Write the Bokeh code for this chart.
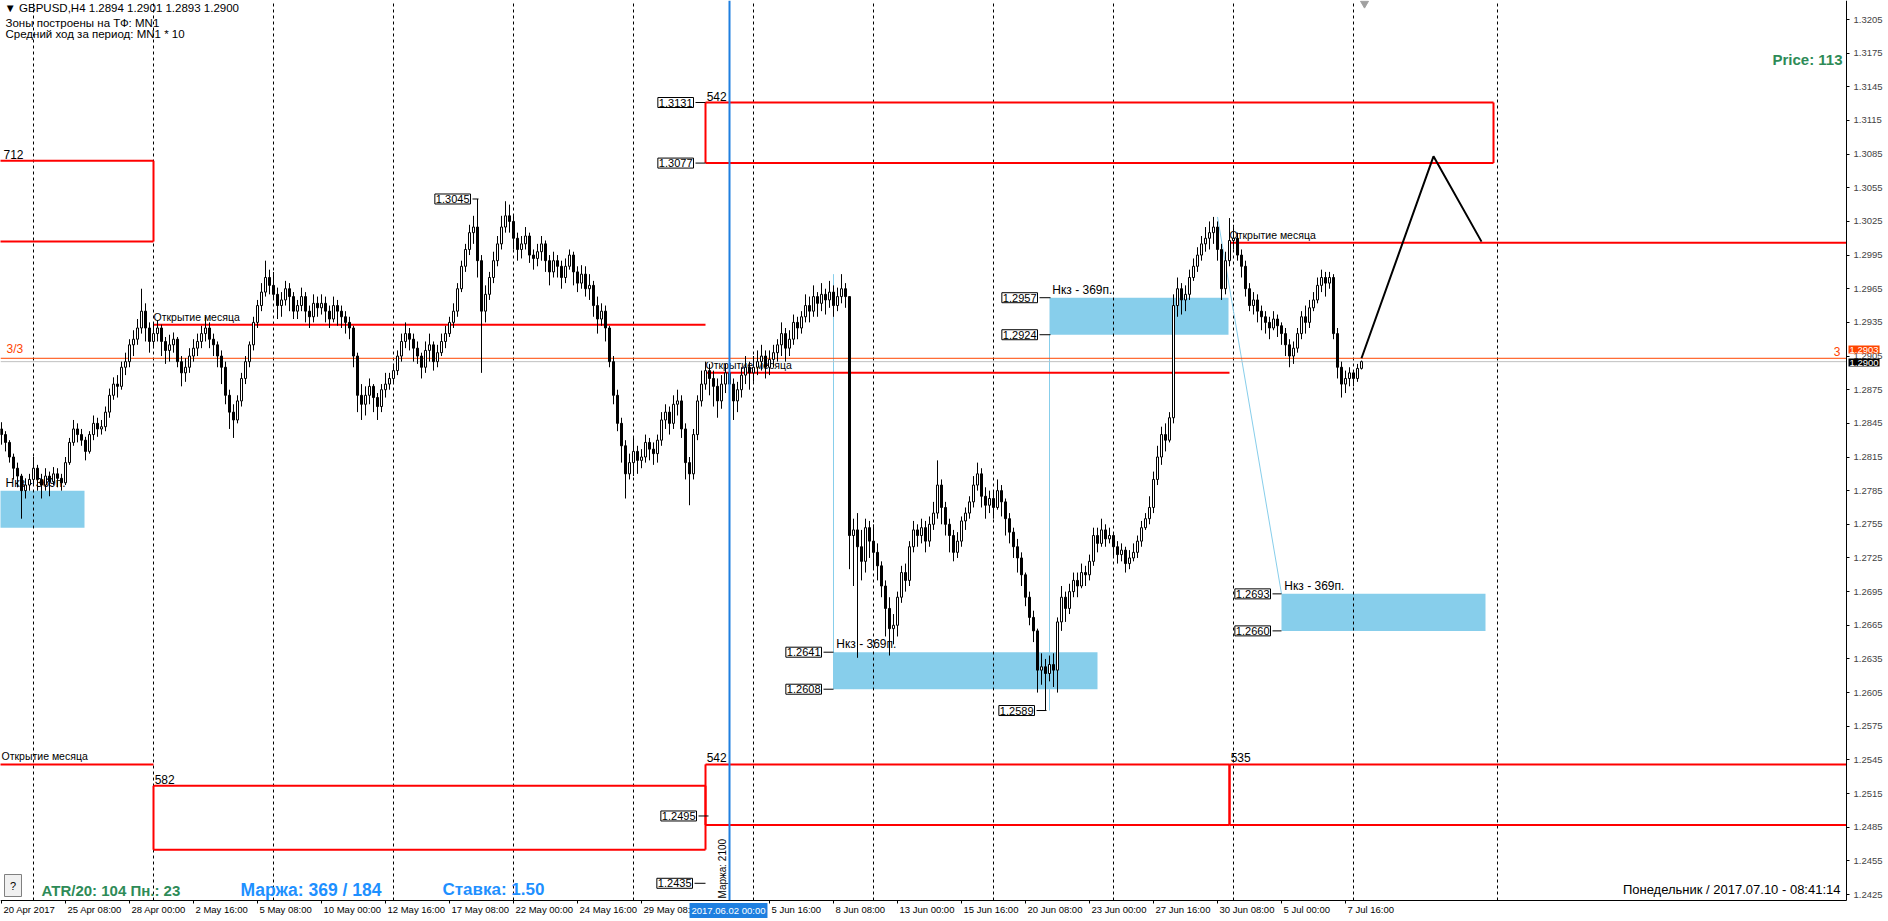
import numpy as np
from bokeh.plotting import figure
from bokeh.models import Range1d, FixedTicker, LinearAxis, Label, NumeralTickFormatter
from bokeh.core.properties import value
from bokeh.embed import file_html
from bokeh.resources import INLINE

FONT = "Liberation Sans"

# ---------------- data: GBPUSD H4, bar 0 = 20 Apr 2017 16:00 (values = pips above 1.0000) ----------------
first_open = 2840
close_pts = [
    2835, 2828,
    2815, 2805, 2798, 2785, 2790, 2795,
    2805, 2795, 2790, 2798, 2793, 2800,
    2796, 2792, 2810, 2828, 2840, 2835,
    2830, 2820, 2835, 2845, 2840, 2842,
    2855, 2870, 2880, 2878, 2895, 2900,
    2915, 2920, 2930, 2945, 2930, 2918,
    2925, 2930, 2918, 2910, 2915, 2920,
    2900, 2890, 2895, 2905, 2912, 2918,
    2925, 2930, 2920, 2915, 2905, 2895,
    2870, 2855, 2848, 2865, 2885, 2900,
    2915, 2935, 2950, 2962, 2975, 2968,
    2960, 2950, 2955, 2965, 2958, 2945,
    2950, 2958, 2945, 2940, 2952, 2948,
    2952, 2945, 2938, 2950, 2945, 2940,
    2935, 2930, 2905, 2870, 2862, 2870,
    2878, 2868, 2860, 2875, 2880, 2885,
    2892, 2905, 2918, 2925, 2920, 2912,
    2905, 2895, 2910, 2915, 2900, 2908,
    2918, 2925, 2935, 2945, 2965, 2985,
    3000, 3015, 3020, 2990, 2945, 2960,
    2975, 2990, 3005, 3020, 3030, 3025,
    3010, 3000, 3005, 3012, 2995, 2992,
    2998, 3005, 2990, 2980, 2990, 2985,
    2975, 2985, 2995, 2980, 2970, 2978,
    2965, 2968, 2950, 2938, 2945, 2930,
    2900, 2870, 2845, 2825, 2800, 2810,
    2820, 2812, 2815, 2828, 2822, 2818,
    2830, 2848, 2855, 2845, 2862, 2865,
    2840, 2810, 2800, 2835, 2865, 2880,
    2892, 2885, 2878, 2865, 2880, 2890,
    2880, 2865, 2875, 2888, 2895, 2890,
    2895, 2900, 2905, 2895, 2902, 2908,
    2915, 2925, 2912, 2920, 2935, 2930,
    2940, 2950, 2945, 2958, 2952, 2960,
    2955, 2962, 2950, 2958, 2965, 2958,
    2745, 2750, 2735, 2722, 2752, 2740,
    2730, 2718, 2700, 2680, 2662, 2665,
    2690, 2712, 2705, 2735, 2750, 2745,
    2752, 2740, 2755, 2765, 2790, 2770,
    2755, 2745, 2730, 2740, 2758, 2765,
    2775, 2790, 2800, 2780, 2772, 2778,
    2770, 2785, 2775, 2760, 2748, 2735,
    2725, 2710, 2690, 2672, 2660, 2625,
    2628, 2622, 2630, 2625, 2668, 2690,
    2680, 2695, 2705, 2700, 2712, 2710,
    2722, 2745, 2738, 2750, 2742, 2745,
    2735, 2728, 2732, 2720, 2725, 2730,
    2740, 2752, 2760, 2770, 2795, 2815,
    2835, 2830, 2850, 2950, 2965, 2955,
    2960, 2975, 2985, 2995, 3005, 3010,
    3015, 3020, 3000, 2965, 2990, 3008,
    3010, 2995, 2985, 2965, 2950, 2955,
    2945, 2940, 2935, 2930, 2938, 2932,
    2925, 2915, 2905, 2912, 2925, 2940,
    2935, 2948, 2955, 2968, 2975, 2970,
    2975, 2925, 2895, 2880, 2885, 2890,
    2885, 2894, 2900,
]
high_pts = [
    2846, 2838,
    2830, 2818, 2810, 2800, 2796, 2800,
    2815, 2808, 2800, 2805, 2802, 2806,
    2805, 2800, 2815, 2832, 2848, 2845,
    2840, 2833, 2838, 2852, 2850, 2848,
    2860, 2876, 2886, 2888, 2900, 2908,
    2920, 2928, 2938, 2965, 2952, 2935,
    2935, 2937, 2933, 2922, 2924, 2926,
    2922, 2905, 2903, 2912, 2920, 2925,
    2932, 2940, 2935, 2925, 2918, 2910,
    2900, 2875, 2862, 2870, 2890, 2905,
    2918, 2940, 2955, 2970, 2990, 2982,
    2980, 2966, 2962, 2972, 2970, 2962,
    2955, 2966, 2962, 2950, 2960, 2958,
    2960, 2958, 2950, 2958, 2955, 2950,
    2945, 2940, 2932, 2908, 2880, 2878,
    2885, 2880, 2872, 2880, 2890, 2890,
    2898, 2910, 2925, 2935, 2930, 2925,
    2918, 2908, 2918, 2925, 2918, 2915,
    2925, 2932, 2940, 2952, 2970, 2990,
    3005, 3022, 3030, 3045, 2995, 2968,
    2980, 2998, 3012, 3030, 3043, 3040,
    3030, 3015, 3012, 3020, 3015, 3000,
    3005, 3012, 3008, 2995, 2998, 2995,
    2990, 2992, 3000, 2998, 2985, 2986,
    2985, 2978, 2972, 2958, 2952, 2950,
    2932, 2905, 2875, 2850, 2830, 2818,
    2832, 2825, 2822, 2835, 2832, 2828,
    2835, 2855, 2862, 2860, 2870, 2875,
    2870, 2845, 2815, 2840, 2870, 2892,
    2900, 2898, 2892, 2885, 2888, 2898,
    2895, 2885, 2882, 2895, 2905, 2900,
    2905, 2910, 2915, 2910, 2910, 2915,
    2920, 2935, 2930, 2928, 2942, 2940,
    2945, 2960, 2958, 2968, 2962, 2970,
    2965, 2972, 2968, 2966, 2978, 2970,
    2958, 2760, 2765, 2750, 2760, 2758,
    2755, 2738, 2722, 2705, 2690, 2675,
    2695, 2718, 2720, 2740, 2758, 2755,
    2760, 2758, 2762, 2775, 2812, 2795,
    2775, 2760, 2750, 2748, 2762, 2770,
    2780, 2798, 2810, 2805, 2788, 2785,
    2785, 2795, 2790, 2778, 2765, 2752,
    2742, 2730, 2712, 2695, 2678, 2662,
    2640, 2635, 2638, 2640, 2672, 2700,
    2695, 2702, 2712, 2712, 2720, 2718,
    2728, 2752, 2752, 2760, 2755, 2752,
    2748, 2740, 2738, 2735, 2732, 2738,
    2745, 2758, 2765, 2780, 2802, 2825,
    2842, 2845, 2855, 2960, 2975, 2970,
    2968, 2982, 2992, 3002, 3012, 3020,
    3025, 3029, 3025, 3005, 2998, 3028,
    3022, 3015, 3000, 2990, 2970, 2962,
    2960, 2950, 2945, 2940, 2945, 2942,
    2935, 2930, 2920, 2918, 2930, 2945,
    2950, 2955, 2962, 2975, 2982, 2980,
    2980, 2978, 2930, 2900, 2892, 2895,
    2892, 2898, 2901,
]
low_pts = [
    2826, 2820,
    2810, 2795, 2788, 2760, 2778, 2785,
    2790, 2785, 2778, 2785, 2780, 2790,
    2788, 2785, 2790, 2808, 2825, 2828,
    2825, 2812, 2818, 2830, 2833, 2835,
    2838, 2850, 2866, 2868, 2875, 2888,
    2895, 2905, 2915, 2925, 2918, 2908,
    2912, 2918, 2905, 2898, 2900, 2908,
    2895, 2878, 2882, 2890, 2900, 2905,
    2912, 2918, 2912, 2905, 2895, 2880,
    2862, 2840, 2832, 2845, 2860, 2880,
    2895, 2910, 2930, 2945, 2958, 2960,
    2955, 2938, 2940, 2950, 2945, 2938,
    2938, 2945, 2935, 2930, 2935, 2940,
    2942, 2935, 2930, 2935, 2932, 2930,
    2925, 2920, 2895, 2855, 2848, 2852,
    2862, 2855, 2848, 2855, 2868, 2875,
    2880, 2888, 2900, 2912, 2910, 2900,
    2898, 2885, 2890, 2900, 2892, 2895,
    2905, 2912, 2922, 2930, 2940, 2962,
    2980, 2995, 3005, 2975, 2890, 2935,
    2955, 2970, 2985, 3000, 3015, 3015,
    3000, 2990, 2992, 3000, 2988, 2982,
    2985, 2990, 2980, 2968, 2975, 2975,
    2965, 2970, 2982, 2968, 2962, 2965,
    2958, 2955, 2940, 2925, 2932, 2918,
    2895, 2862, 2838, 2810, 2778, 2795,
    2798, 2800, 2805, 2810, 2812, 2808,
    2810, 2825, 2840, 2835, 2840, 2852,
    2832, 2795, 2772, 2795, 2830, 2860,
    2875, 2870, 2860, 2850, 2858, 2872,
    2870, 2848, 2855, 2868, 2880, 2875,
    2882, 2888, 2892, 2885, 2888, 2895,
    2900, 2905, 2900, 2905, 2915, 2920,
    2925, 2935, 2935, 2940, 2940, 2945,
    2942, 2948, 2940, 2945, 2952, 2948,
    2715, 2700, 2636, 2705, 2712, 2725,
    2715, 2705, 2690, 2655, 2638, 2648,
    2655, 2685, 2695, 2700, 2730, 2735,
    2738, 2730, 2735, 2750, 2760, 2755,
    2745, 2730, 2722, 2725, 2735, 2750,
    2760, 2770, 2785, 2770, 2760, 2765,
    2760, 2768, 2762, 2745, 2738, 2725,
    2712, 2700, 2682, 2665, 2650, 2605,
    2612, 2589, 2615, 2610, 2605, 2660,
    2668, 2675, 2690, 2690, 2698, 2700,
    2705, 2718, 2730, 2735, 2735, 2738,
    2725, 2720, 2722, 2712, 2715, 2722,
    2725, 2735, 2750, 2755, 2765, 2790,
    2808, 2820, 2828, 2845, 2940, 2942,
    2945, 2955, 2972, 2980, 2990, 2998,
    3000, 3005, 2990, 2955, 2960, 2985,
    3000, 2990, 2975, 2958, 2945, 2942,
    2935, 2928, 2925, 2920, 2928, 2922,
    2915, 2905, 2895, 2898, 2908, 2920,
    2925, 2930, 2945, 2952, 2962, 2958,
    2965, 2920, 2885, 2868, 2872, 2878,
    2878, 2882, 2893,
]

# time axis labels (bar index -> text)
tick_bars = [0, 16, 32, 48, 64, 80, 96, 112, 128, 144, 160, 192, 208, 224, 240, 256, 272, 288, 304, 320, 336]
tick_labels = ["20 Apr 2017", "25 Apr 08:00", "28 Apr 00:00", "2 May 16:00", "5 May 08:00", "10 May 00:00",
               "12 May 16:00", "17 May 08:00", "22 May 00:00", "24 May 16:00", "29 May 08:00",
               "5 Jun 16:00", "8 Jun 08:00", "13 Jun 00:00", "15 Jun 16:00", "20 Jun 08:00",
               "23 Jun 00:00", "27 Jun 16:00", "30 Jun 08:00", "5 Jul 00:00", "7 Jul 16:00"]
week_start_bars = [8, 38, 68, 98, 128, 158, 188, 218, 248, 278, 308, 338, 374]
price_ticks = [1.2425, 1.2455, 1.2485, 1.2515, 1.2545, 1.2575, 1.2605, 1.2635, 1.2665, 1.2695,
               1.2725, 1.2755, 1.2785, 1.2815, 1.2845, 1.2875, 1.2905, 1.2935, 1.2965, 1.2995,
               1.3025, 1.3055, 1.3085, 1.3115, 1.3145, 1.3175, 1.3205]

# demand zones "Нкз" (bar from, bar to, low, high)
zone_x0 = [-1, 208, 262, 320]
zone_x1 = [20.75, 274, 306.75, 371]
zone_lo = [1.2752, 1.2608, 1.2924, 1.2660]
zone_hi = [1.2785, 1.2641, 1.2957, 1.2693]
zone_text = ["Нкз - 369п.", "Нкз - 369п.", "Нкз - 369п.", "Нкз - 369п."]

# monthly range boxes (bar from, bar to, low, high, label)
box_x0 = [-1, 176, 38, 176, 307]
box_x1 = [38, 373, 176, 307, None]
box_lo = [1.3007, 1.3077, 1.2465, 1.2487, 1.2487]
box_hi = [1.3079, 1.3131, 1.2522, 1.2541, 1.2541]
box_text = ["712", "542", "582", "542", "535"]

# month open levels
mo_x0 = [-1, 38, 176, 307]
mo_x1 = [38, 176, 307, None]
mo_price = [1.2541, 1.2933, 1.2890, 1.3006]

# projected path
path_bars = [340, 358, 370]
path_prices = [1.2903, 1.3083, 1.3007]

vline_bar = 182          # 2017.06.02 00:00
bid_price = 1.2900
level_33 = 1.2903

# ---------------- layout helpers (window pixel -> data) ----------------
def bx(X):
    return (X - 1) / 4.0

def py(Y):
    return 1.3205 - (Y - 19) / 11218.0

W, H = 1888, 921
XR, YB = 1846, 900          # right price scale / bottom time scale position
p = figure(frame_width=W, frame_height=H, output_backend="svg", toolbar_location=None,
           x_range=Range1d(bx(0), bx(W)), y_range=Range1d(py(H), py(0)),
           x_axis_location=None, y_axis_location=None,
           min_border_left=0, min_border_top=0, min_border_right=0, min_border_bottom=0,
           background_fill_color="white", border_fill_color="white")
p.xgrid.visible = False
p.ygrid.visible = False
p.outline_line_color = None

xr_end = bx(XR)
for i in range(len(box_x1)):
    if box_x1[i] is None:
        box_x1[i] = xr_end
for i in range(len(mo_x1)):
    if mo_x1[i] is None:
        mo_x1[i] = xr_end

yax = LinearAxis(ticker=FixedTicker(ticks=price_ticks), formatter=NumeralTickFormatter(format="0.0000"),
                 fixed_location=xr_end, bounds=(py(YB), py(0)),
                 major_label_text_font=FONT, major_label_text_font_size="9.5px",
                 major_tick_out=3, major_tick_in=0, minor_tick_out=0, minor_tick_in=0,
                 major_label_standoff=4, axis_line_color="black", major_tick_line_color="black")
p.add_layout(yax, "right")

# time axis: ticks from the axis, MT4-style left-aligned labels drawn at the tick bars
xax = LinearAxis(ticker=FixedTicker(ticks=tick_bars),
                 major_label_overrides={b: "" for b in tick_bars},
                 fixed_location=py(YB), bounds=(bx(0), xr_end),
                 major_label_text_font_size="1px", major_tick_out=3, major_tick_in=0,
                 minor_tick_out=0, minor_tick_in=0, axis_line_color="black")
p.add_layout(xax, "below")
for b, s in zip(tick_bars, tick_labels):
    p.add_layout(Label(x=b, y=py(YB + 3), x_offset=2, text=s, text_font=FONT, text_font_size="9.5px",
                       text_align="left", text_baseline="top", text_color="black"))

ybot, ytop = py(YB), py(0)

# zones
p.quad(left=zone_x0, right=zone_x1, bottom=zone_lo, top=zone_hi, fill_color="#87CEEB", line_color=None)

# grid (weekly)
p.segment(x0=week_start_bars, x1=week_start_bars, y0=[ybot] * len(week_start_bars),
          y1=[ytop] * len(week_start_bars), line_color="black", line_width=1, line_dash="3 3")

# thin light-blue helper lines
p.segment(x0=[208, 262, 304], y0=[1.2978, 1.2924, 1.3029], x1=[208, 262, 320], y1=[1.2608, 1.2589, 1.2693],
          line_color="#87CEEB", line_width=1)

# zone texts
p.text(x=[bx(5)] + [x + 0.7 for x in zone_x0[1:]], y=zone_hi, text=zone_text,
       text_font=value(FONT), text_font_size=value("12px"), text_baseline="bottom", y_offset=-1,
       text_color="black")

# month open lines and texts
p.segment(x0=mo_x0, x1=mo_x1, y0=mo_price, y1=mo_price, line_color="red", line_width=2)
p.text(x=[bx(1)] + mo_x0[1:], y=mo_price, text=["Открытие месяца"] * 4, text_font=value(FONT),
       text_font_size=value("10.5px"), text_baseline="bottom", y_offset=-2, text_color="black")

# monthly boxes (top, bottom, left edges; right edge where the box closes)
p.segment(x0=box_x0 + box_x0, x1=box_x1 + box_x1, y0=box_hi + box_lo, y1=box_hi + box_lo,
          line_color="red", line_width=2)
p.segment(x0=box_x0, x1=box_x0, y0=box_lo, y1=box_hi, line_color="red", line_width=2)
closed = [i for i in range(len(box_x1)) if box_x1[i] < xr_end]
p.segment(x0=[box_x1[i] for i in closed], x1=[box_x1[i] for i in closed],
          y0=[box_lo[i] for i in closed], y1=[box_hi[i] for i in closed], line_color="red", line_width=2)
p.text(x=[bx(3)] + [x + 0.3 for x in box_x0[1:]], y=box_hi, text=box_text, text_font=value(FONT),
       text_font_size=value("12px"), text_baseline="bottom", y_offset=-2, text_color="black")

# level lines
p.segment(x0=[bx(0)], x1=[xr_end], y0=[level_33], y1=[level_33], line_color="#FF4500", line_width=1)
p.segment(x0=[bx(0)], x1=[xr_end], y0=[bid_price], y1=[bid_price], line_color="#C0C0C0", line_width=1)
p.text(x=[bx(6)], y=[level_33], text=["3/3"], text_font=value(FONT), text_font_size=value("12px"),
       text_baseline="bottom", y_offset=-2, text_color="#FF4500")
p.text(x=[bx(1840)], y=[level_33], text=["3"], text_font=value(FONT), text_font_size=value("12px"),
       text_baseline="bottom", text_align="right", y_offset=-2, text_color="#FF4500")

# candles
c = np.array(close_pts, dtype=float)
o = np.concatenate([[first_open], c[:-1]])
h = np.maximum(np.array(high_pts, dtype=float), np.maximum(o, c))
l = np.minimum(np.array(low_pts, dtype=float), np.minimum(o, c))
O, C, Hh, L = 1 + o / 1e4, 1 + c / 1e4, 1 + h / 1e4, 1 + l / 1e4
bars = np.arange(len(c))
p.segment(x0=bars, x1=bars, y0=L, y1=Hh, line_color="black", line_width=1)
fill = ["white" if cc >= oo else "black" for oo, cc in zip(O, C)]
p.vbar(x=bars, width=0.5, top=np.maximum(O, C), bottom=np.minimum(O, C),
       fill_color=fill, line_color="black", line_width=1)

# blue vertical line
p.segment(x0=[vline_bar], x1=[vline_bar], y0=[ybot], y1=[ytop], line_color="#1E7FE0", line_width=2)
p.text(x=[vline_bar - 0.4], y=[py(898)], text=["Маржа: 2100"], angle=np.pi / 2, text_font=value(FONT),
       text_font_size=value("10px"), text_baseline="bottom", text_align="left", text_color="black")

# projected path
p.line(path_bars, path_prices, line_color="black", line_width=2)

# chart shift marker
p.scatter(x=[bx(1364)], y=[py(3)], marker="inverted_triangle", size=8, fill_color="#A0A0A0",
          line_color="#A0A0A0")

# price label boxes with connectors: (text, box right X, anchor X)
price_boxes = [("1.3131", 695, 705), ("1.3077", 695, 705), ("1.3045", 472, 478),
               ("1.2957", 1039, 1050), ("1.2924", 1039, 1050), ("1.2641", 823, 833),
               ("1.2608", 823, 833), ("1.2589", 1036, 1046), ("1.2693", 1272, 1281),
               ("1.2660", 1272, 1281), ("1.2495", 698, 708), ("1.2435", 694, 705)]
p.segment(x0=[bx(r) for _, r, _ in price_boxes], x1=[bx(a) for _, _, a in price_boxes],
          y0=[float(t) for t, _, _ in price_boxes], y1=[float(t) for t, _, _ in price_boxes],
          line_color="black", line_width=1)
for t, r, a in price_boxes:
    p.add_layout(Label(x=bx(r) - 0.5, y=float(t), text=t, text_font=FONT, text_font_size="11px",
                       text_align="right", text_baseline="middle", text_color="black",
                       background_fill_color="white", border_line_color="black", padding=1))

def lab(text, X, Y, size="10px", color="black", align="left", style="normal", bg=None, border=None, pad=0):
    p.add_layout(Label(x=bx(X), y=py(Y), text=text, text_font=FONT, text_font_size=size,
                       text_color=color, text_align=align, text_baseline="middle",
                       text_font_style=style, background_fill_color=bg, border_line_color=border,
                       padding=pad))

# header texts
lab("▼  GBPUSD,H4  1.2894 1.2901 1.2893 1.2900", 4, 7, size="11.5px")
lab("Зоны построены на ТФ: MN1", 5, 22, size="11.5px")
lab("Средний ход за период: MN1 * 10", 5, 33, size="11.5px")
lab("Price: 113", 1842, 59, size="15px", color="#2E8B57", align="right", style="bold")

# bottom info
p.quad(left=[bx(4)], right=[bx(21)], bottom=[py(896)], top=[py(874)], fill_color="#F0F0F0",
       line_color="#808080", line_width=1)
lab("?", 12.5, 885, size="11px", align="center")
lab("ATR/20: 104  Пн.: 23", 41, 890, size="15px", color="#2E8B57", style="bold")
lab("Маржа: 369 / 184", 240, 889, size="17.5px", color="#1E90FF", style="bold")
lab("Ставка: 1.50", 442, 889, size="17px", color="#1E90FF", style="bold")
lab("Понедельник / 2017.07.10 - 08:41:14", 1840, 889, size="13px", align="right")

# axis-area labels
lab("2017.06.02 00:00", 728, 910, size="9.5px", color="white", align="center", bg="#1E7FE0", pad=2)
lab("1.2903", 1848, 349, size="9.5px", color="white", bg="#FF4500", pad=1)
lab("1.2900", 1848, 362, size="9.5px", color="white", bg="black", pad=1)

open("out.html", "w").write(file_html(p, INLINE))
